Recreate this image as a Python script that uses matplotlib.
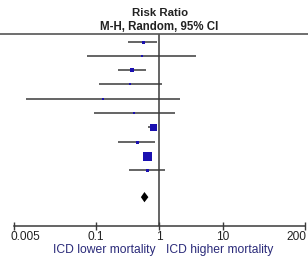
import matplotlib
matplotlib.use("Agg")
import matplotlib.pyplot as plt
from matplotlib.lines import Line2D
from matplotlib.transforms import ScaledTranslation
import numpy as np

plt.rcParams['font.family'] = ['Liberation Sans', 'DejaVu Sans']

# Study estimates (risk ratio, 95% CI)
est = [0.55, 0.53, 0.37, 0.34, 0.13, 0.40, 0.78, 0.44, 0.63, 0.63]
lo = [0.32, 0.073, 0.225, 0.113, 0.0078, 0.094, 0.67, 0.225, 0.55, 0.336]
hi = [0.93, 3.8, 0.62, 1.09, 2.15, 1.77, 0.93, 0.855, 0.73, 1.23]
weights = [3, 2, 3.2, 2, 2, 2.2, 7, 3, 9, 3]  # marker size (px)
pooled = 0.58
pooled_lo = 0.51
pooled_hi = 0.67
tick_vals = [0.005, 0.1, 1, 10, 200]
tick_labels = ["0.005", "0.1", "1", "10", "200"]

W, H = 308, 259
fig = plt.figure(figsize=(W / 100, H / 100), dpi=100)

x_left, x_right = 13.8, 305.0
y_top, y_bot = 34.0, 226.0
ax = fig.add_axes([x_left / W, 1 - y_bot / H, (x_right - x_left) / W, (y_bot - y_top) / H])
ax.set_xscale('log')
ax.set_xlim(0.005, 200)

row0, step = 41.7, 14.26
ax.set_ylim((y_bot - row0) / step, (y_top - row0) / step)

blue = '#1a10b0'
line_c = '#3a3a3a'
n = len(est)
for i in range(n):
    ax.plot([lo[i], hi[i]], [i, i], color=line_c, lw=1.1, solid_capstyle='butt', zorder=2)
    ax.plot(est[i], i, marker='s', ms=weights[i] * 0.72, color=blue, mec=blue, mew=0, zorder=3)

dy = 10.9
d_h = 0.36
ax.fill([pooled_lo, pooled, pooled_hi, pooled], [dy, dy - d_h, dy, dy + d_h], color='black', lw=0, zorder=3)

ax.axvline(1, color=line_c, lw=1.1, zorder=1)

for s in ['top', 'right', 'left']:
    ax.spines[s].set_visible(False)
ax.spines['bottom'].set_color(line_c)
ax.spines['bottom'].set_linewidth(1.1)
ax.set_yticks([])
ax.set_xticks(tick_vals)
ax.set_xticklabels(tick_labels)
ax.xaxis.set_minor_locator(matplotlib.ticker.NullLocator())
ax.tick_params(axis='x', direction='inout', length=6, width=1.0, color=line_c,
               labelsize=8.6, pad=0.5, labelcolor='#222222')
lbls = ax.get_xticklabels()
lbls[0].set_transform(lbls[0].get_transform() + ScaledTranslation(12 / 100, 0, fig.dpi_scale_trans))
lbls[-1].set_transform(lbls[-1].get_transform() + ScaledTranslation(-8.5 / 100, 0, fig.dpi_scale_trans))

# top rule
fig.add_artist(Line2D([0, 1], [1 - y_top / H, 1 - y_top / H], color='#555555', lw=1.2,
                      transform=fig.transFigure))

fig.text(160 / W, 1 - 13 / H, "Risk Ratio", ha='center', va='center', fontsize=8.2,
         fontweight='bold', color='#222222')
fig.text(159 / W, 1 - 27 / H, "M-H, Random, 95% CI", ha='center', va='center', fontsize=8.3,
         fontweight='bold', color='#222222')

fig.text(155.5 / W, 1 - 249.5 / H, "ICD lower mortality", ha='right', va='center', fontsize=8.7,
         color='#2b2b7a')
fig.text(165.5 / W, 1 - 249.5 / H, "ICD higher mortality", ha='left', va='center', fontsize=8.7,
         color='#2b2b7a')

fig.savefig('out.png', dpi=100)
